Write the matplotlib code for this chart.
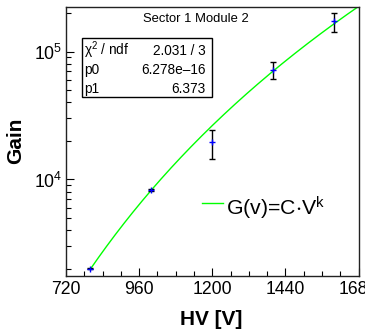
import numpy as np
import matplotlib
matplotlib.use("Agg")
import matplotlib.pyplot as plt
from matplotlib.ticker import FixedLocator, MultipleLocator, LogLocator, NullFormatter, FixedFormatter
from matplotlib.lines import Line2D
from matplotlib.patches import Rectangle

plt.rcParams['font.family'] = ['Liberation Sans', 'DejaVu Sans']
plt.rcParams['mathtext.fontset'] = 'custom'
plt.rcParams['mathtext.rm'] = 'Liberation Sans'
plt.rcParams['mathtext.it'] = 'Liberation Sans'
plt.rcParams['mathtext.default'] = 'regular'

# measured gain vs. high voltage
hv = [800, 1000, 1200, 1400, 1600]
gain = [2010, 8250, 19500, 72000, 172000]
gain_err = [30, 150, 5000, 10800, 29000]

# power-law fit G(V) = p0 * V^p1
p0 = 6.278e-16
p1 = 6.373
chi2, ndf = 2.031, 3

x_ticks = [720, 960, 1200, 1440, 1680]
y_ticks = [1e4, 1e5]
y_tick_labels = [r'$10^{4}$', r'$10^{5}$']

W, H = 365, 331
fig = plt.figure(figsize=(W / 100, H / 100), dpi=100)
ax = fig.add_axes([66 / W, 1 - 275.5 / H, (358.5 - 66) / W, (275.5 - 7.3) / H])

ax.set_yscale('log')
ax.set_xlim(720, 1680)
ax.set_ylim(1775, 2.22e5)

vv = np.linspace(800, 1680, 400)
ax.plot(vv, p0 * vv ** p1, color='#00ff00', lw=1.0, zorder=2)

ax.errorbar(hv, gain, yerr=gain_err, fmt='none', ecolor='black', elinewidth=1.0,
            capsize=2.5, capthick=1.0, zorder=3)
ax.plot(hv, gain, ls='none', marker='+', color='#0000ff', ms=5, mew=1.0, zorder=4)

ax.xaxis.set_major_locator(FixedLocator(x_ticks))
ax.xaxis.set_minor_locator(MultipleLocator(60))
ax.yaxis.set_major_locator(FixedLocator(y_ticks))
ax.yaxis.set_major_formatter(FixedFormatter(y_tick_labels))
ax.yaxis.set_minor_locator(LogLocator(base=10, subs=np.arange(2, 10)))
ax.yaxis.set_minor_formatter(NullFormatter())

ax.tick_params(which='both', direction='in', top=False, right=False, labelsize=12.7,
               width=0.8, colors='black')
ax.tick_params(which='major', length=6, pad=4)
ax.tick_params(which='minor', length=3.5)
ax.tick_params(axis='y', pad=3)
for s in ax.spines.values():
    s.set_linewidth(1.0)
    s.set_color('#222222')

# axis titles
fig.text(211 / W, 1 - 325 / H, 'HV [V]', ha='center', va='baseline', fontsize=15,
         fontweight='bold')
fig.text(15.8 / W, 1 - 141 / H, 'Gain', ha='center', va='center', rotation=90,
         fontsize=15, fontweight='bold')

# title
fig.text(195.5 / W, 1 - 22 / H, 'Sector 1 Module 2', ha='center', va='baseline',
         fontsize=9.4)

# fit statistics box
fig.patches.append(Rectangle((81.7 / W, 1 - 97.3 / H), (212.3 - 81.7) / W,
                             (97.3 - 37.7) / H, transform=fig.transFigure,
                             facecolor='white', edgecolor='black', lw=1.0, zorder=5))
rows = [(r'$\chi^{2}$ / ndf', f'{chi2:.3f} / {ndf}', 55),
        ('p0', '6.278e\u201316', 74),
        ('p1', f'{p1:.3f}', 92.7)]
for left, right, base in rows:
    fig.text(84.5 / W, 1 - base / H, left, ha='left', va='baseline', fontsize=9.8, zorder=6)
    fig.text(205.7 / W, 1 - base / H, right, ha='right', va='baseline', fontsize=9.8, zorder=6)

# legend
fig.lines.append(Line2D([201.7 / W, 223.3 / W], [1 - 202.7 / H] * 2,
                        transform=fig.transFigure, color='#00ff00', lw=1.0))
fig.text(226 / W, 1 - 215.3 / H, r'G(v)=C$\cdot$V$^{k}$', ha='left', va='baseline',
         fontsize=15.3)

fig.savefig('out.png', dpi=100)
